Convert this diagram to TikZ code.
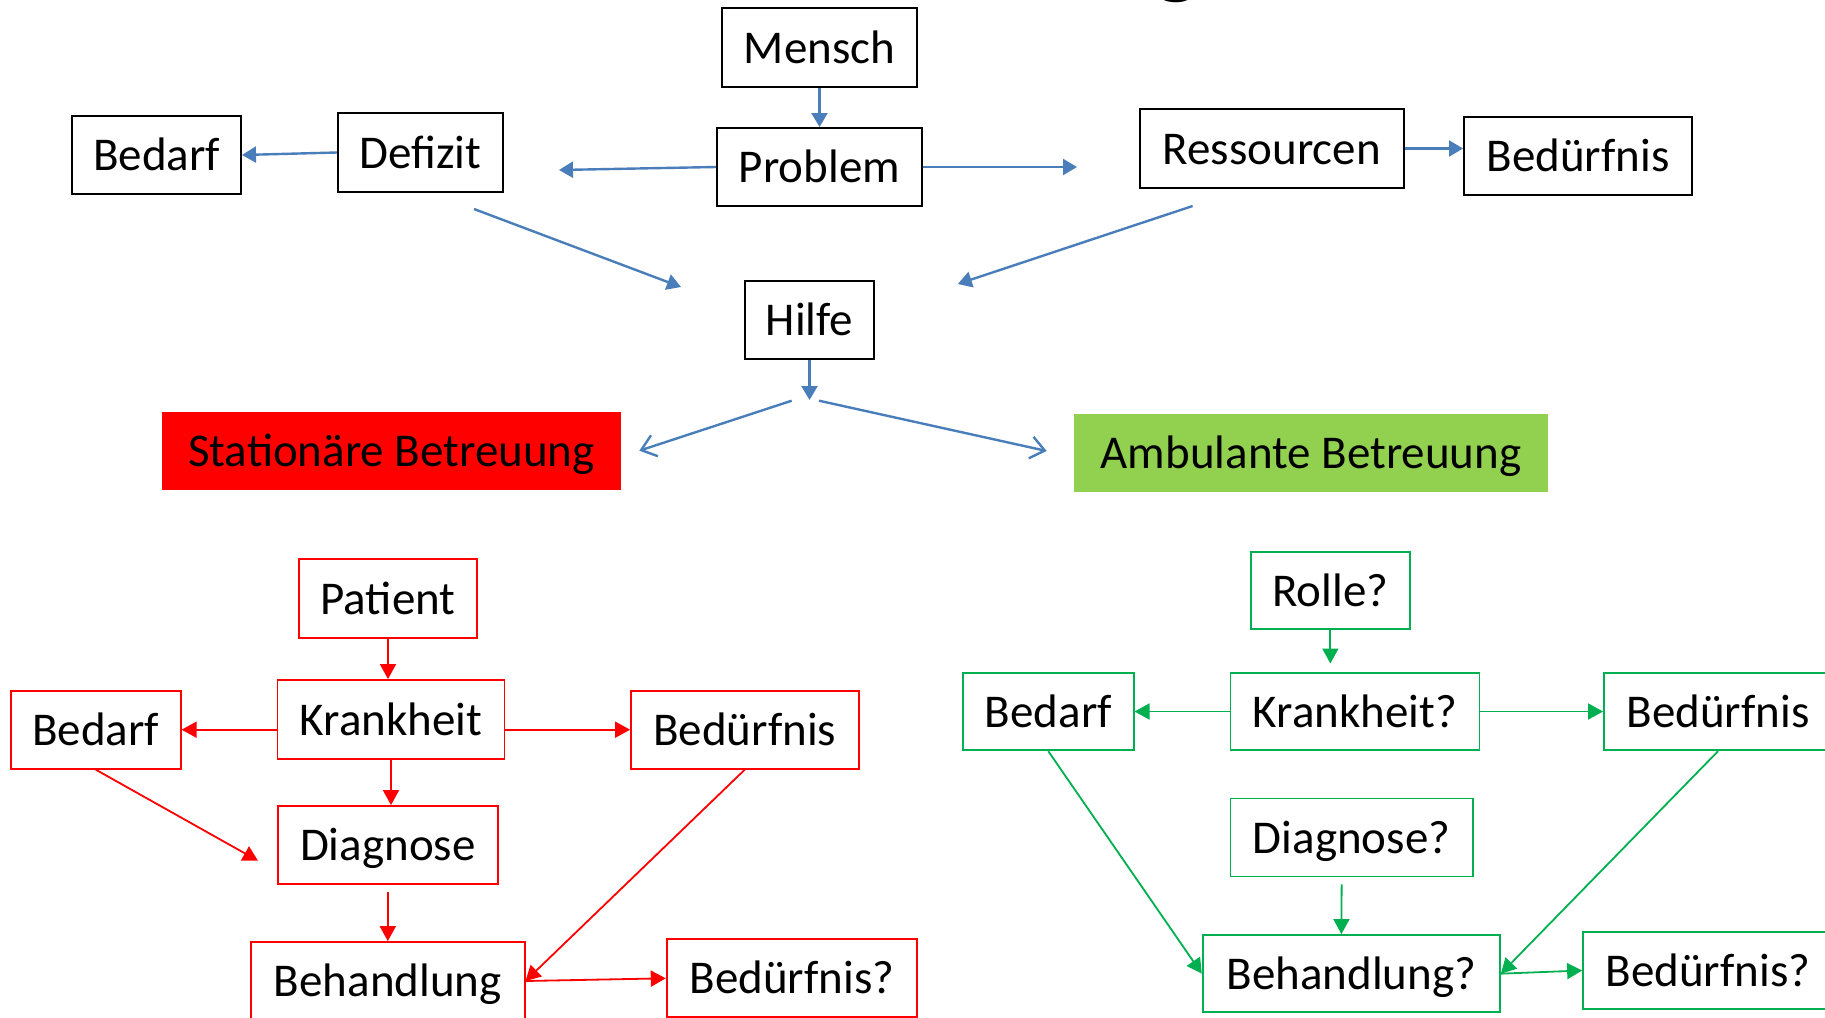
\documentclass[tikz,border=0pt]{standalone}
\usepackage{fontspec}
\setmainfont{Carlito}
\usetikzlibrary{arrows.meta}
\definecolor{oblue}{RGB}{74,126,187}
\definecolor{ored}{RGB}{255,0,0}
\definecolor{ogreen}{RGB}{0,176,80}
\definecolor{olime}{RGB}{146,208,80}
\begin{document}
\begin{tikzpicture}[x=0.5pt,y=-0.5pt,
  base/.style={inner sep=0pt, text height=15.5pt, text depth=0pt, font=\fontsize{23.5}{28}\selectfont},
  kbox/.style={base, draw=black, line width=1pt},
  rbox/.style={base, draw=ored, line width=0.9pt},
  gbox/.style={base, draw=ogreen, line width=0.9pt},
  fbox/.style={base, draw=none},
  barrow/.style={draw=oblue, line width=1.2pt, -{Triangle[length=7pt,width=8pt]}},
  oarrow/.style={draw=oblue, line width=1.2pt, -{Straight Barb[length=7pt,width=11pt,line width=1.2pt]}},
  rarrow/.style={draw=ored, line width=0.9pt, -{Triangle[length=7.5pt,width=8pt]}},
  garrow/.style={draw=ogreen, line width=0.9pt, -{Triangle[length=7.5pt,width=8pt]}}]
\useasboundingbox (0,0) rectangle (1825,1017);
\begin{scope}
\clip (0,0) rectangle (1825,1017);
\node[anchor=base, inner sep=0pt, font=\fontsize{48}{50}\selectfont\bfseries] (title) at (1177,-13) {g};
% black boxes
\node[kbox, minimum width=97.5pt, minimum height=39.5pt] (mensch) at (819.5,47.5) {Mensch};
\node[kbox, minimum width=102.5pt, minimum height=39pt] (problem) at (819.5,167) {Problem};
\node[kbox, minimum width=84.5pt, minimum height=39pt] (bedarfA) at (156.5,155) {Bedarf};
\node[kbox, minimum width=82.5pt, minimum height=39.5pt] (defizit) at (420.5,152.5) {Defizit};
\node[kbox, minimum width=132.25pt, minimum height=39.5pt] (ress) at (1271.75,148.5) {Ressourcen};
\node[kbox, minimum width=114pt, minimum height=39pt] (beduA) at (1578,156) {Bedürfnis};
\node[kbox, minimum width=64.5pt, minimum height=39pt] (hilfe) at (809.5,320) {Hilfe};
% filled boxes
\node[fbox, fill=ored, minimum width=229.5pt, minimum height=39pt] (stat) at (391.5,451) {Stationäre Betreuung};
\node[fbox, fill=olime, minimum width=237pt, minimum height=39pt] (amb) at (1311,453) {Ambulante Betreuung};
% red boxes
\node[rbox, minimum width=89pt, minimum height=39.5pt] (patient) at (388,598.5) {Patient};
\node[rbox, minimum width=113.5pt, minimum height=39.5pt] (krank) at (391,719.5) {Krankheit};
\node[rbox, minimum width=85pt, minimum height=39pt] (bedarfB) at (95.7,729.7) {Bedarf};
\node[rbox, minimum width=113.8pt, minimum height=39pt] (beduB) at (744.8,729.7) {Bedürfnis};
\node[rbox, minimum width=110.2pt, minimum height=39pt] (diag) at (387.8,845) {Diagnose};
\node[rbox, minimum width=136.8pt, minimum height=39pt] (behand) at (387.8,981) {Behandlung};
\node[rbox, minimum width=125.15pt, minimum height=39pt] (beduqB) at (791.85,978.3) {Bedürfnis?};
% green boxes
\node[gbox, minimum width=79.35pt, minimum height=38.8pt] (rolle) at (1330.35,590.5) {Rolle?};
\node[gbox, minimum width=124.5pt, minimum height=38.8pt] (krankq) at (1354.9,711.5) {Krankheit?};
\node[gbox, minimum width=85.3pt, minimum height=38.8pt] (bedarfC) at (1048.3,711.5) {Bedarf};
\node[gbox, minimum width=114pt, minimum height=38.8pt] (beduC) at (1718,711.5) {Bedürfnis};
\node[gbox, minimum width=121.25pt, minimum height=39pt] (diagq) at (1351.65,837.5) {Diagnose?};
\node[gbox, minimum width=148.65pt, minimum height=38.65pt] (behandq) at (1351.35,973.65) {Behandlung?};
\node[gbox, minimum width=125pt, minimum height=38.8pt] (beduqC) at (1708,970.5) {Bedürfnis?};
% free ends
\coordinate (pl) at (559,170);
\coordinate (pr) at (1077,167);
\coordinate (dl1) at (474,209);
\coordinate (dl2) at (681,287);
\coordinate (rr1) at (1192.6,206);
\coordinate (rr2) at (957.8,284);
\coordinate (hs) at (809.5,400);
\coordinate (hl1) at (791.7,400.7);
\coordinate (hl2) at (639.3,450.7);
\coordinate (hr1) at (819,400.7);
\coordinate (hr2) at (1046.7,451);
\coordinate (bd) at (258,860.7);
\coordinate (rk) at (1330.35,663.5);
% blue connectors
\draw[barrow] (mensch) -- (problem);
\draw[barrow] (defizit.west) -- (bedarfA.east);
\draw[barrow] (problem.west) -- (pl);
\draw[barrow] (problem.east) -- (pr);
\draw[barrow] (dl1) -- (dl2);
\draw[barrow] (rr1) -- (rr2);
\draw[barrow] (ress.east) -- (ress.east -| beduA.west);
\draw[barrow] (hilfe.south) -- (hs);
\draw[oarrow] (hl1) -- (hl2);
\draw[oarrow] (hr1) -- (hr2);
% red connectors
\draw[rarrow] (patient.south) -- (patient.south |- krank.north);
\draw[rarrow] (krank.west |- bedarfB.east) -- (bedarfB.east);
\draw[rarrow] (krank.east |- beduB.west) -- (beduB.west);
\draw[rarrow] (krank.south) -- (krank.south |- diag.north);
\draw[rarrow] (bedarfB.south) -- (bd);
\draw[rarrow] ([yshift=-3.5pt]diag.south) -- (behand.north);
\draw[rarrow] (beduB.south) -- (behand.east);
\draw[rarrow] (behand.east) -- (beduqB.west);
% green connectors
\draw[garrow] (rolle.south) -- (rk);
\draw[garrow] (krankq.west) -- (bedarfC.east);
\draw[garrow] (krankq.east) -- (beduC.west);
\draw[garrow] (bedarfC.south) -- (behandq.west);
\draw[garrow] ([xshift=-5pt,yshift=-3.5pt]diagq.south) -- ([xshift=-5pt]behandq.north);
\draw[garrow] (beduC.south) -- (behandq.east);
\draw[garrow] (behandq.east) -- (beduqC.west);
\end{scope}
\end{tikzpicture}
\end{document}
